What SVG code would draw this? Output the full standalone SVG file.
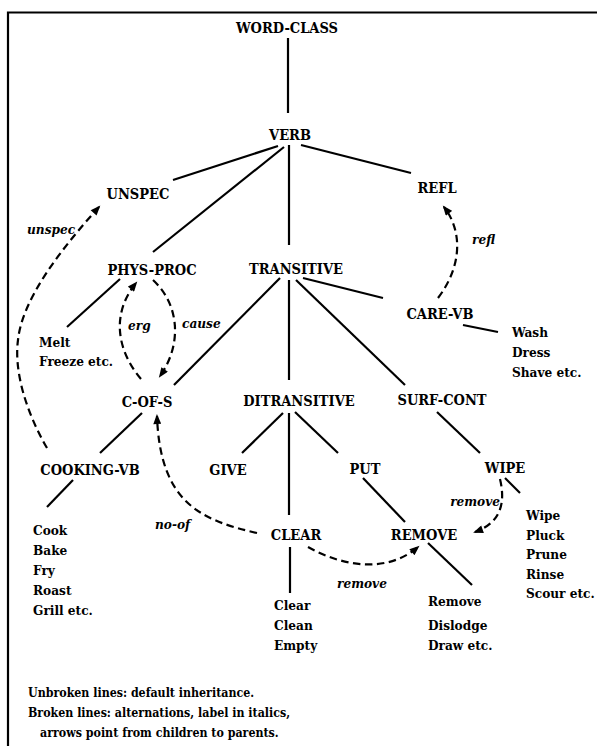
<svg xmlns="http://www.w3.org/2000/svg" width="597" height="746" viewBox="0 0 597 746">
<style>
text{font-family:'DejaVu Serif Condensed','DejaVu Serif',serif;font-stretch:condensed;fill:#000}
.n{font-weight:700;font-size:14.5px;text-anchor:middle}
.l{font-weight:700;font-size:13.5px}
.lg{font-weight:700;font-size:12.3px}
.i{font-weight:700;font-style:italic;font-size:13.5px}
.s{stroke:#000;stroke-width:2.2;fill:none}
.d{stroke:#000;stroke-width:2.2;fill:none;stroke-dasharray:7.5 4.5;marker-end:url(#ah)}
</style>
<defs>
<marker id="ah" viewBox="0 0 10 8" refX="8" refY="4" markerWidth="11" markerHeight="8" markerUnits="userSpaceOnUse" orient="auto"><path d="M0,0 L10,4 L0,8 z" fill="#000"/></marker>
</defs>
<rect width="597" height="746" fill="#fff"/>
<path id="frame" d="M8,746 V12.5 H597" stroke="#000" stroke-width="2.2" fill="none"/>
<g id="connectors">
<path class="s" d="M288,38 V113"/>
<path class="s" d="M278,146 L173,180"/>
<path class="s" d="M284,147 L153,252"/>
<path class="s" d="M289,145 V245"/>
<path class="s" d="M301,145 L411,173"/>
<path class="s" d="M120,279 L67,327"/>
<path class="s" d="M280,278 L174,385"/>
<path class="s" d="M303,278 L383,298"/>
<path class="s" d="M296,280 L405,385"/>
<path class="s" d="M289,280 V380"/>
<path class="s" d="M463,325 L498,332"/>
<path class="s" d="M142,413 L100,453"/>
<path class="s" d="M73,480 L47,507"/>
<path class="s" d="M283,413 L242,453"/>
<path class="s" d="M289,413 V515"/>
<path class="s" d="M295,412 L338,453"/>
<path class="s" d="M437,412 L480,453"/>
<path class="s" d="M505,478 L520,493"/>
<path class="s" d="M363,478 L405,522"/>
<path class="s" d="M290,547 V593"/>
<path class="s" d="M428,543 L472,585"/>
<path class="d" d="M47,448 C25,410 14,370 18,340 C22,300 60,250 99,207"/>
<path class="d" d="M141,379 C118,352 110,315 136,283"/>
<path class="d" d="M153,280 C180,305 182,345 160,376"/>
<path class="d" d="M438,298 C463,265 462,230 444,207"/>
<path class="d" d="M257,533 C200,520 160,502 157,416"/>
<path class="d" d="M500,479 C505,500 503,522 475,532"/>
<path class="d" d="M308,547 C340,565 385,575 418,547"/>
<text class="i" x="27" y="234">unspec</text>
<text class="i" x="128" y="330">erg</text>
<text class="i" x="182" y="328">cause</text>
<text class="i" x="472" y="244">refl</text>
<text class="i" x="155" y="529">no-of</text>
<text class="i" x="500" y="506" text-anchor="end">remove</text>
<text class="i" x="337" y="588">remove</text>
</g>
<g id="word-class"><text class="n" x="287" y="33">WORD-CLASS</text></g>
<g id="verb"><text class="n" x="290" y="140">VERB</text></g>
<g id="unspec"><text class="n" x="138" y="199">UNSPEC</text></g>
<g id="refl"><text class="n" x="437" y="193">REFL</text></g>
<g id="phys-proc"><text class="n" x="152" y="275">PHYS-PROC</text></g>
<g id="transitive"><text class="n" x="296" y="274">TRANSITIVE</text></g>
<g id="care-vb"><text class="n" x="440" y="319">CARE-VB</text></g>
<g id="c-of-s"><text class="n" x="147" y="407">C-OF-S</text></g>
<g id="ditransitive"><text class="n" x="299" y="406">DITRANSITIVE</text></g>
<g id="surf-cont"><text class="n" x="442" y="405">SURF-CONT</text></g>
<g id="cooking-vb"><text class="n" x="90" y="475">COOKING-VB</text></g>
<g id="give"><text class="n" x="228" y="475">GIVE</text></g>
<g id="put"><text class="n" x="365" y="474">PUT</text></g>
<g id="wipe"><text class="n" x="505" y="473">WIPE</text></g>
<g id="clear"><text class="n" x="296" y="540">CLEAR</text></g>
<g id="remove"><text class="n" x="424" y="540">REMOVE</text></g>
<g id="leaves-phys"><text class="l" x="39" y="347">Melt</text><text class="l" x="39" y="366">Freeze etc.</text></g>
<g id="leaves-care"><text class="l" x="512" y="337">Wash</text><text class="l" x="512" y="357">Dress</text><text class="l" x="512" y="377">Shave etc.</text></g>
<g id="leaves-cook"><text class="l" x="33" y="535">Cook</text><text class="l" x="33" y="555">Bake</text><text class="l" x="33" y="575">Fry</text><text class="l" x="33" y="595">Roast</text><text class="l" x="33" y="615">Grill etc.</text></g>
<g id="leaves-wipe"><text class="l" x="526" y="520">Wipe</text><text class="l" x="526" y="539.5">Pluck</text><text class="l" x="526" y="559">Prune</text><text class="l" x="526" y="578.5">Rinse</text><text class="l" x="526" y="598">Scour etc.</text></g>
<g id="leaves-clear"><text class="l" x="274" y="610">Clear</text><text class="l" x="274" y="630">Clean</text><text class="l" x="274" y="650">Empty</text></g>
<g id="leaves-remove"><text class="l" x="428" y="606">Remove</text><text class="l" x="428" y="630">Dislodge</text><text class="l" x="428" y="650">Draw etc.</text></g>
<g id="legend">
<text class="lg" x="28" y="697">Unbroken lines: default inheritance.</text>
<text class="lg" x="28" y="717">Broken lines: alternations, label in italics,</text>
<text class="lg" x="40" y="737">arrows point from children to parents.</text>
</g>
</svg>
